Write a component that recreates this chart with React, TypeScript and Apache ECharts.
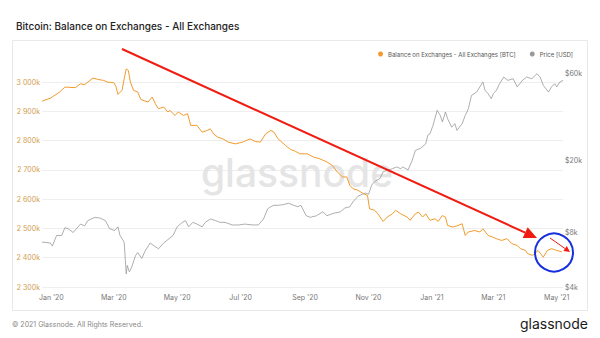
import React, { useEffect, useRef } from 'react';
import * as echarts from 'echarts';

const balanceDates = [
  '2019-12-23', '2019-12-31', '2020-01-09', '2020-01-14', '2020-01-24', '2020-01-29', '2020-02-02', '2020-02-10',
  '2020-02-15', '2020-02-20', '2020-02-24', '2020-03-01', '2020-03-03', '2020-03-05', '2020-03-09', '2020-03-11',
  '2020-03-13', '2020-03-15', '2020-03-17', '2020-03-20', '2020-03-24', '2020-03-27', '2020-03-31', '2020-04-03',
  '2020-04-07', '2020-04-10', '2020-04-13', '2020-04-18', '2020-04-22', '2020-04-24', '2020-04-29', '2020-05-02',
  '2020-05-07', '2020-05-11', '2020-05-14', '2020-05-20', '2020-05-25', '2020-05-30', '2020-06-02', '2020-06-05',
  '2020-06-09', '2020-06-14', '2020-06-19', '2020-06-26', '2020-07-03', '2020-07-10', '2020-07-15', '2020-07-20',
  '2020-07-25', '2020-07-30', '2020-08-02', '2020-08-06', '2020-08-13', '2020-08-18', '2020-08-23', '2020-08-27',
  '2020-09-03', '2020-09-09', '2020-09-15', '2020-09-22', '2020-09-27', '2020-10-02', '2020-10-07', '2020-10-11',
  '2020-10-14', '2020-10-17', '2020-10-22', '2020-10-27', '2020-10-31', '2020-11-02', '2020-11-07', '2020-11-10',
  '2020-11-15', '2020-11-19', '2020-11-24', '2020-11-27', '2020-12-02', '2020-12-08', '2020-12-11', '2020-12-16',
  '2020-12-19', '2020-12-23', '2020-12-26', '2020-12-30', '2021-01-04', '2021-01-07', '2021-01-11', '2021-01-14',
  '2021-01-16', '2021-01-21', '2021-01-26', '2021-01-30', '2021-02-02', '2021-02-05', '2021-02-11', '2021-02-16',
  '2021-02-19', '2021-02-24', '2021-02-28', '2021-03-04', '2021-03-09', '2021-03-14', '2021-03-19', '2021-03-24',
  '2021-03-27', '2021-04-01', '2021-04-03', '2021-04-08', '2021-04-13', '2021-04-18', '2021-04-22', '2021-04-26',
  '2021-05-01', '2021-05-06',
];
const balanceValues = [
  2935000, 2945000, 2966000, 2983000, 2981000, 2994000, 2991000, 3014000,
  3009000, 3006000, 3000000, 2998000, 2986000, 2958000, 2972000, 3011000,
  3045000, 3040000, 3000000, 2972000, 2966000, 2941000, 2935000, 2932000,
  2949000, 2926000, 2909000, 2915000, 2898000, 2903000, 2886000, 2898000,
  2886000, 2892000, 2852000, 2852000, 2829000, 2835000, 2840000, 2823000,
  2812000, 2806000, 2795000, 2789000, 2795000, 2806000, 2797000, 2795000,
  2823000, 2835000, 2829000, 2806000, 2784000, 2770000, 2763000, 2755000,
  2755000, 2744000, 2738000, 2727000, 2716000, 2693000, 2676000, 2676000,
  2647000, 2636000, 2630000, 2619000, 2613000, 2567000, 2562000, 2550000,
  2524000, 2539000, 2550000, 2562000, 2550000, 2539000, 2528000, 2550000,
  2556000, 2539000, 2550000, 2528000, 2533000, 2524000, 2544000, 2539000,
  2510000, 2505000, 2510000, 2516000, 2476000, 2488000, 2493000, 2488000,
  2499000, 2476000, 2471000, 2465000, 2459000, 2465000, 2448000, 2442000,
  2431000, 2425000, 2414000, 2408000, 2425000, 2402000, 2425000, 2431000,
  2425000, 2420000,
];

const priceDates = [
  '2019-12-23', '2019-12-31', '2020-01-02', '2020-01-06', '2020-01-11', '2020-01-14', '2020-01-17', '2020-01-22',
  '2020-01-29', '2020-02-02', '2020-02-05', '2020-02-12', '2020-02-17', '2020-02-22', '2020-02-26', '2020-03-02',
  '2020-03-05', '2020-03-07', '2020-03-11', '2020-03-13', '2020-03-14', '2020-03-16', '2020-03-18', '2020-03-22',
  '2020-03-24', '2020-03-28', '2020-03-31', '2020-04-05', '2020-04-08', '2020-04-13', '2020-04-18', '2020-04-22',
  '2020-04-27', '2020-05-01', '2020-05-06', '2020-05-09', '2020-05-12', '2020-05-16', '2020-05-20', '2020-05-25',
  '2020-05-28', '2020-06-02', '2020-06-07', '2020-06-11', '2020-06-16', '2020-06-23', '2020-06-29', '2020-07-05',
  '2020-07-13', '2020-07-18', '2020-07-23', '2020-07-27', '2020-07-30', '2020-08-02', '2020-08-06', '2020-08-11',
  '2020-08-16', '2020-08-21', '2020-08-25', '2020-08-28', '2020-09-02', '2020-09-06', '2020-09-12', '2020-09-18',
  '2020-09-22', '2020-09-28', '2020-10-05', '2020-10-09', '2020-10-14', '2020-10-17', '2020-10-22', '2020-10-26',
  '2020-10-29', '2020-11-01', '2020-11-04', '2020-11-07', '2020-11-12', '2020-11-15', '2020-11-20', '2020-11-24',
  '2020-11-28', '2020-12-02', '2020-12-04', '2020-12-09', '2020-12-13', '2020-12-16', '2020-12-21', '2020-12-26',
  '2020-12-28', '2020-12-30', '2021-01-02', '2021-01-06', '2021-01-09', '2021-01-11', '2021-01-14', '2021-01-16',
  '2021-01-20', '2021-01-23', '2021-01-25', '2021-01-30', '2021-02-02', '2021-02-05', '2021-02-08', '2021-02-13',
  '2021-02-16', '2021-02-19', '2021-02-21', '2021-02-24', '2021-02-27', '2021-03-01', '2021-03-04', '2021-03-07',
  '2021-03-11', '2021-03-15', '2021-03-20', '2021-03-24', '2021-03-29', '2021-04-02', '2021-04-07', '2021-04-12',
  '2021-04-15', '2021-04-18', '2021-04-23', '2021-04-26', '2021-04-29', '2021-05-01', '2021-05-04', '2021-05-07',
];
const priceValues = [
  7080, 7000, 6730, 7700, 7700, 8500, 8400, 8000,
  8900, 8700, 9300, 9700, 9600, 9300, 8400, 8200,
  8600, 7700, 7080, 4730, 5260, 4850, 5100, 5970,
  6200, 5750, 6300, 7000, 6800, 6500, 7000, 7300,
  7700, 8600, 9100, 9300, 8600, 9100, 8900, 8600,
  9100, 9500, 9300, 9100, 9100, 8800, 8800, 8900,
  8800, 8800, 9500, 10800, 11100, 11300, 11300, 11400,
  11600, 11300, 11100, 11300, 9900, 9700, 9900, 10400,
  9900, 10200, 10400, 10900, 11100, 11800, 12700, 13000,
  13200, 13000, 14600, 15300, 15900, 17300, 17700, 18000,
  18400, 18000, 18400, 17700, 20000, 22700, 23300, 24700,
  27500, 28000, 31200, 37800, 35400, 32600, 37000, 34000,
  30500, 31900, 29300, 31900, 35400, 38600, 45700, 47700,
  50900, 54200, 48800, 46700, 43800, 46700, 48800, 53000,
  57700, 55300, 56500, 50900, 55300, 57700, 56500, 60200,
  57700, 52000, 47700, 50900, 53000, 50900, 54200, 55300,
];

const xTickDates = [
  '2020-01-01', '2020-03-01', '2020-05-01', '2020-07-01', '2020-09-01',
  '2020-11-01', '2021-01-01', '2021-03-01', '2021-05-01',
];
const priceTicks = [4000, 8000, 20000, 60000];
const monthNames = ['Jan', 'Feb', 'Mar', 'Apr', 'May', 'Jun', 'Jul', 'Aug', 'Sep', 'Oct', 'Nov', 'Dec'];

const FONT = 'Inter, "Noto Sans", sans-serif';

function toTs(s: string) {
  const [y, m, d] = s.split('-').map(Number);
  return new Date(y, m - 1, d).getTime();
}

function arrow(x1: number, y1: number, x2: number, y2: number, headLen: number, halfW: number, width: number, color: string) {
  const dx = x2 - x1;
  const dy = y2 - y1;
  const len = Math.sqrt(dx * dx + dy * dy);
  const ux = dx / len;
  const uy = dy / len;
  const bx = x2 - ux * headLen;
  const by = y2 - uy * headLen;
  const px = -uy;
  const py = ux;
  return [
    { type: 'line', z: 100, shape: { x1, y1, x2: bx, y2: by }, style: { stroke: color, lineWidth: width } },
    {
      type: 'polygon', z: 100,
      shape: { points: [[x2, y2], [bx + px * halfW, by + py * halfW], [bx - px * halfW, by - py * halfW]] },
      style: { fill: color },
    },
  ];
}

export default function App() {
  const ref = useRef<HTMLDivElement>(null);
  useEffect(() => {
    const chart = echarts.init(ref.current!, null, { renderer: 'svg' });
    const option: any = {
      animation: false,
      backgroundColor: '#ffffff',
      textStyle: { fontFamily: FONT },
      title: {
        text: 'Bitcoin: Balance on Exchanges - All Exchanges',
        left: 11,
        top: 16,
        textStyle: { fontSize: 10, fontWeight: 500, color: '#222', fontFamily: FONT },
      },
      legend: {
        right: 22,
        top: 46,
        icon: 'circle',
        itemWidth: 5,
        itemHeight: 5,
        itemGap: 14,
        textStyle: { fontSize: 6, color: '#555', fontFamily: FONT },
        data: ['Balance on Exchanges - All Exchanges [BTC]', 'Price [USD]'],
      },
      grid: { left: 42, right: 37, top: 66, bottom: 51 },
      xAxis: {
        type: 'time',
        min: toTs('2019-12-23'),
        max: toTs('2021-05-07'),
        axisLine: { show: false },
        axisTick: { show: false },
        splitLine: { show: false },
        axisLabel: { show: false },
      },
      yAxis: [
        {
          type: 'value',
          min: 2300000,
          max: 3055000,
          interval: 100000,
          axisLine: { show: false },
          axisTick: { show: false },
          splitLine: { show: true, showMaxLine: false, lineStyle: { color: '#eeeeee', width: 1 } },
          axisLabel: {
            showMaxLabel: false,
            color: '#d29c4c',
            fontSize: 7,
            margin: 2,
            fontFamily: FONT,
            formatter: (v: number) => {
              const k = Math.round(v / 1000);
              return `${Math.floor(k / 1000)} ${String(k % 1000).padStart(3, '0')}k`;
            },
          },
        },
        {
          type: 'log',
          logBase: 10,
          min: 4000,
          max: 66400,
          axisLine: { show: false },
          axisTick: { show: false },
          splitLine: { show: false },
          axisLabel: { show: false },
        },
      ],
      series: [
        {
          name: 'Price [USD]',
          type: 'line',
          yAxisIndex: 1,
          showSymbol: false,
          symbol: 'none',
          color: '#999999',
          lineStyle: { color: '#999999', width: 0.8 },
          data: priceDates.map((d, i) => [toTs(d), priceValues[i]]),
          z: 2,
        },
        {
          name: 'Balance on Exchanges - All Exchanges [BTC]',
          type: 'line',
          yAxisIndex: 0,
          showSymbol: false,
          symbol: 'none',
          color: '#f39a2c',
          lineStyle: { color: '#f39a2c', width: 1 },
          data: balanceDates.map((d, i) => [toTs(d), balanceValues[i]]),
          z: 3,
        },
      ],
    };
    chart.setOption(option);

    const priceLabels = priceTicks.map((v) => {
      const y = chart.convertToPixel({ yAxisIndex: 1 } as any, v) as number;
      return {
        type: 'text',
        x: 565,
        y,
        style: {
          text: '$' + v / 1000 + 'k',
          fill: '#777',
          fontSize: 7,
          fontFamily: FONT,
          verticalAlign: 'middle',
          align: 'left',
        },
      };
    });

    const bottomY = chart.convertToPixel({ yAxisIndex: 0 } as any, 2300000) as number;
    const dateLabels = xTickDates.map((s) => {
      const ts = toTs(s);
      const x = chart.convertToPixel({ xAxisIndex: 0 } as any, ts) as number;
      const d = new Date(ts);
      return {
        type: 'text',
        x,
        y: bottomY + 10,
        style: {
          text: `${monthNames[d.getMonth()]} '${String(d.getFullYear()).slice(2)}`,
          fill: '#777',
          fontSize: 7,
          fontFamily: FONT,
          verticalAlign: 'middle',
          align: 'center',
        },
      };
    });

    const graphic: any[] = [
      {
        type: 'rect',
        z: -10,
        shape: { x: 12.5, y: 40.5, width: 575, height: 270 },
        style: { fill: 'none', stroke: '#e8e8e8', lineWidth: 1 },
      },
      {
        type: 'text',
        z: 0,
        x: 297,
        y: 172,
        style: {
          text: 'glassnode',
          fill: '#e5e5e5',
          fontSize: 39,
          fontFamily: FONT,
          fontWeight: 500,
          align: 'center',
          verticalAlign: 'middle',
        },
      },
      {
        type: 'text',
        x: 12,
        y: 324,
        style: {
          text: '© 2021 Glassnode. All Rights Reserved.',
          fill: '#888',
          fontSize: 7,
          fontFamily: FONT,
          verticalAlign: 'middle',
        },
      },
      {
        type: 'text',
        x: 588,
        y: 323,
        style: {
          text: 'glassnode',
          fill: '#1a1a1a',
          fontSize: 14,
          fontFamily: FONT,
          align: 'right',
          verticalAlign: 'middle',
        },
      },
      ...priceLabels,
      ...dateLabels,
      ...arrow(122, 49, 537, 238, 13, 6, 2, '#f01c12'),
      {
        type: 'circle',
        z: 100,
        shape: { cx: 554, cy: 252.5, r: 19 },
        style: { fill: 'none', stroke: '#1530dc', lineWidth: 2 },
      },
      ...arrow(550, 238, 570, 252, 6, 3, 1, '#f01c12'),
    ];
    chart.setOption({ graphic });

    return () => chart.dispose();
  }, []);
  return <div ref={ref} style={{ position: 'fixed', left: 0, top: 0, width: 600, height: 338, background: '#fff' }} />;
}
